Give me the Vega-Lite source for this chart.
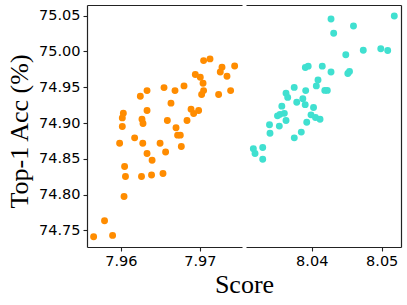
{
  "$schema": "https://vega.github.io/schema/vega-lite/v6.json",
  "autosize": {"type": "none"},
  "bounds": "flush",
  "padding": {"left": 87, "top": 5, "right": 320, "bottom": 300},
  "config": {
    "view": {"stroke": null},
    "axis": {"labelFont": "DejaVu Sans", "labelFontSize": 14.5, "labelColor": "#000", "titleFont": "Liberation Serif", "titleFontSize": 26, "titleFontWeight": "normal", "titleColor": "#000", "domainColor": "#222", "domainWidth": 1.2, "tickColor": "#222", "tickWidth": 1.1, "tickSize": 4, "grid": false, "labelPadding": 3}
  },
  "datasets": {
    "left": [
      {"score": 7.97048, "acc": 74.9872}, {"score": 7.97129, "acc": 74.9896}, {"score": 7.97281, "acc": 74.978}, {"score": 7.97259, "acc": 74.9714},
      {"score": 7.97441, "acc": 74.9798}, {"score": 7.97344, "acc": 74.9654}, {"score": 7.96943, "acc": 74.9677}, {"score": 7.97006, "acc": 74.964},
      {"score": 7.97041, "acc": 74.9557}, {"score": 7.97048, "acc": 74.9453}, {"score": 7.97023, "acc": 74.9398}, {"score": 7.97238, "acc": 74.9398},
      {"score": 7.9739, "acc": 74.9453}, {"score": 7.968, "acc": 74.9519}, {"score": 7.96686, "acc": 74.9453}, {"score": 7.96547, "acc": 74.9495},
      {"score": 7.96332, "acc": 74.9453}, {"score": 7.96247, "acc": 74.9375}, {"score": 7.96635, "acc": 74.9278}, {"score": 7.96889, "acc": 74.9194},
      {"score": 7.96985, "acc": 74.9174}, {"score": 7.96922, "acc": 74.9132}, {"score": 7.96332, "acc": 74.9174}, {"score": 7.96032, "acc": 74.9138},
      {"score": 7.96019, "acc": 74.9072}, {"score": 7.96019, "acc": 74.8951}, {"score": 7.96268, "acc": 74.9054}, {"score": 7.96281, "acc": 74.8993},
      {"score": 7.96589, "acc": 74.9035}, {"score": 7.96838, "acc": 74.9035}, {"score": 7.96699, "acc": 74.8933}, {"score": 7.96719, "acc": 74.8831},
      {"score": 7.96753, "acc": 74.8831}, {"score": 7.96175, "acc": 74.8793}, {"score": 7.95985, "acc": 74.8717}, {"score": 7.96278, "acc": 74.8717},
      {"score": 7.96497, "acc": 74.8717}, {"score": 7.96766, "acc": 74.8672}, {"score": 7.96332, "acc": 74.8574}, {"score": 7.96567, "acc": 74.8594},
      {"score": 7.96396, "acc": 74.8479}, {"score": 7.96048, "acc": 74.8393}, {"score": 7.96059, "acc": 74.8253}, {"score": 7.96262, "acc": 74.8253},
      {"score": 7.96389, "acc": 74.8273}, {"score": 7.96534, "acc": 74.8295}, {"score": 7.96041, "acc": 74.7974}, {"score": 7.95794, "acc": 74.7635},
      {"score": 7.95656, "acc": 74.7412}, {"score": 7.95896, "acc": 74.743}
    ],
    "right": [
      {"score": 8.04276, "acc": 75.0454}, {"score": 8.0518, "acc": 75.0496}, {"score": 8.04597, "acc": 75.0356}, {"score": 8.04314, "acc": 75.0254},
      {"score": 8.04487, "acc": 74.9954}, {"score": 8.04737, "acc": 75.0017}, {"score": 8.04987, "acc": 75.0038}, {"score": 8.05086, "acc": 75.0014},
      {"score": 8.03909, "acc": 74.9777}, {"score": 8.0395, "acc": 74.9795}, {"score": 8.04151, "acc": 74.9795}, {"score": 8.04276, "acc": 74.9714},
      {"score": 8.04516, "acc": 74.9693}, {"score": 8.0454, "acc": 74.9719}, {"score": 8.0409, "acc": 74.96}, {"score": 8.04066, "acc": 74.9519},
      {"score": 8.04187, "acc": 74.9456}, {"score": 8.04223, "acc": 74.9456}, {"score": 8.0375, "acc": 74.9498}, {"score": 8.03914, "acc": 74.9453},
      {"score": 8.03633, "acc": 74.9417}, {"score": 8.03657, "acc": 74.9358}, {"score": 8.03873, "acc": 74.934}, {"score": 8.03786, "acc": 74.9291},
      {"score": 8.03907, "acc": 74.9257}, {"score": 8.03573, "acc": 74.9236}, {"score": 8.04026, "acc": 74.9216}, {"score": 8.03511, "acc": 74.91},
      {"score": 8.03547, "acc": 74.9121}, {"score": 8.03609, "acc": 74.9135}, {"score": 8.0399, "acc": 74.9114}, {"score": 8.04054, "acc": 74.9077},
      {"score": 8.04119, "acc": 74.9054}, {"score": 8.03633, "acc": 74.9035}, {"score": 8.03397, "acc": 74.8975}, {"score": 8.03537, "acc": 74.8957},
      {"score": 8.03929, "acc": 74.901}, {"score": 8.03404, "acc": 74.8856}, {"score": 8.03851, "acc": 74.8873}, {"score": 8.03751, "acc": 74.8793},
      {"score": 8.03166, "acc": 74.864}, {"score": 8.033, "acc": 74.8657}, {"score": 8.0319, "acc": 74.8574}, {"score": 8.033, "acc": 74.8493}
    ]
  },
  "spacing": 4,
  "hconcat": [
    {
      "width": 155,
      "height": 242,
      "data": {"name": "left"},
      "resolve": {"axis": {"x": "independent", "y": "independent"}},
      "layer": [
        {
          "mark": {"type": "circle", "size": 48, "opacity": 1, "color": "#FF8C00"},
          "encoding": {
            "x": {"field": "score", "type": "quantitative", "scale": {"domain": [7.95572, 7.97534], "nice": false, "zero": false},
                  "axis": {"orient": "bottom", "values": [7.96, 7.97], "format": ".2f", "title": "Score", "titleX": 157, "titleAlign": "center", "titlePadding": 4}},
            "y": {"field": "acc", "type": "quantitative", "scale": {"domain": [74.7268, 75.0649], "nice": false, "zero": false},
                  "axis": {"orient": "left", "values": [74.75, 74.8, 74.85, 74.9, 74.95, 75.0, 75.05], "format": ".2f", "title": "Top-1 Acc (%)", "titleX": -60, "titleY": 126, "titleAngle": -90, "titleAlign": "center", "titleBaseline": "alphabetic"}}
          }
        },
        {
          "mark": {"type": "circle", "opacity": 0},
          "encoding": {
            "x": {"field": "score", "type": "quantitative", "axis": {"orient": "top", "labels": false, "ticks": false, "title": null, "domain": true}}
          }
        }
      ]
    },
    {
      "width": 155,
      "height": 242,
      "data": {"name": "right"},
      "resolve": {"axis": {"x": "independent", "y": "independent"}},
      "layer": [
        {
          "mark": {"type": "circle", "size": 48, "opacity": 1, "color": "#40E0D0"},
          "encoding": {
            "x": {"field": "score", "type": "quantitative", "scale": {"domain": [8.03061, 8.05276], "nice": false, "zero": false},
                  "axis": {"orient": "bottom", "values": [8.04, 8.05], "format": ".2f", "title": null}},
            "y": {"field": "acc", "type": "quantitative", "scale": {"domain": [74.7268, 75.0649], "nice": false, "zero": false}, "axis": null}
          }
        },
        {
          "mark": {"type": "circle", "opacity": 0},
          "encoding": {
            "x": {"field": "score", "type": "quantitative", "axis": {"orient": "top", "labels": false, "ticks": false, "title": null, "domain": true}},
            "y": {"field": "acc", "type": "quantitative", "axis": {"orient": "right", "labels": false, "ticks": false, "title": null, "domain": true}}
          }
        }
      ]
    }
  ]
}
